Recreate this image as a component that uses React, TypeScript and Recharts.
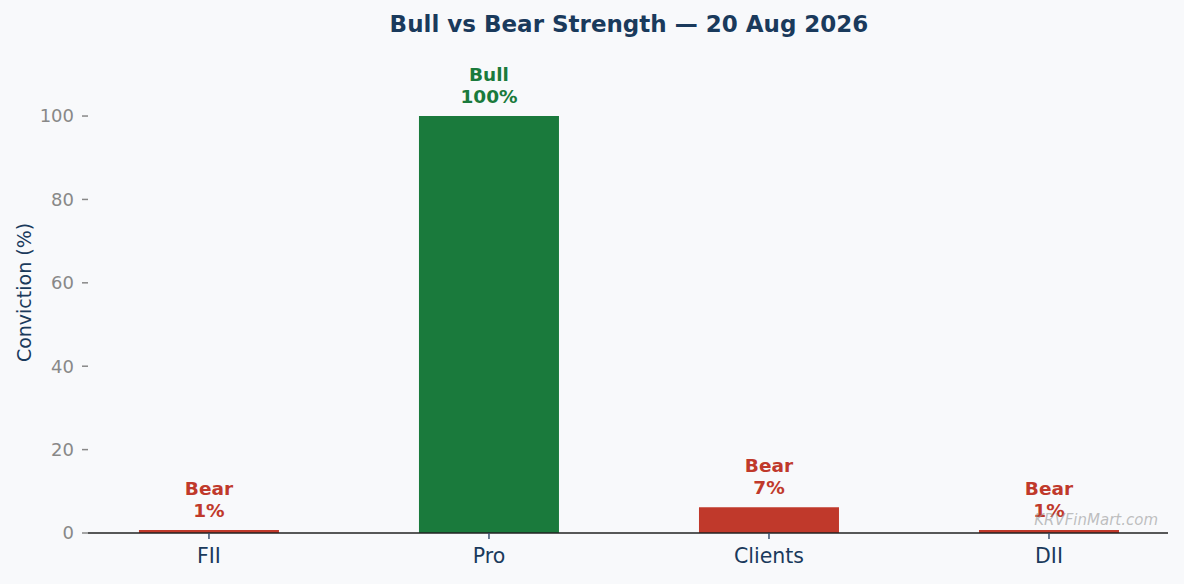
import React from 'react';
import { BarChart, Bar, XAxis, YAxis, Cell, LabelList } from 'recharts';

const categories = ['FII', 'Pro', 'Clients', 'DII'];
const strength = [0.7, 100, 6.2, 0.7];
const sides = ['Bear', 'Bull', 'Bear', 'Bear'];
const percentLabels = ['1%', '100%', '7%', '1%'];
const yTicks = [0, 20, 40, 60, 80, 100];
const xTicks = [0, 1, 2, 3];

const sideColors: Record<string, string> = { Bull: '#1a7a3c', Bear: '#c0392b' };

const data = categories.map((name, i) => ({
  pos: i,
  name,
  value: strength[i],
  side: sides[i],
  pct: percentLabels[i],
}));

const FONT = '"DejaVu Sans", sans-serif';
const NAVY = '#1a3a5c';

const BarLabel = (props: any) => {
  const { x, y, width, index } = props;
  const d = data[index];
  const cx = x + width / 2;
  const color = sideColors[d.side];
  return (
    <g>
      <text x={cx} y={y - 42} textAnchor="middle" dominantBaseline="central" fill={color} fontSize={18.5} fontWeight="bold" fontFamily={FONT}>
        {d.side}
      </text>
      <text x={cx} y={y - 20} textAnchor="middle" dominantBaseline="central" fill={color} fontSize={18.5} fontWeight="bold" fontFamily={FONT}>
        {d.pct}
      </text>
    </g>
  );
};

export default function App() {
  return (
    <div style={{ position: 'absolute', left: 0, top: 0, width: 1184, height: 584, background: '#f8f9fb', fontFamily: FONT }}>
      <div style={{ position: 'absolute', left: 88, top: 0, width: 1082, lineHeight: '48px', textAlign: 'center', fontSize: 23, fontWeight: 'bold', color: NAVY }}>
        Bull vs Bear Strength — 20 Aug 2026
      </div>
      <BarChart width={1184} height={584} data={data} margin={{ top: 66, right: 16, bottom: 0, left: 0 }}>
        <XAxis
          dataKey="pos"
          type="number"
          domain={[-0.432, 3.425]}
          ticks={xTicks}
          tickFormatter={(v: number) => categories[v]}
          height={51}
          axisLine={{ stroke: '#222', strokeWidth: 1.6 }}
          tickLine={{ stroke: '#3a5070', strokeWidth: 1.5 }}
          tickSize={6}
          tickMargin={9}
          tick={{ fill: NAVY, fontSize: 20.5, fontFamily: FONT }}
          allowDataOverflow
        />
        <YAxis
          domain={[0, 112]}
          ticks={yTicks}
          width={88}
          axisLine={false}
          tickLine={{ stroke: '#888', strokeWidth: 1.5 }}
          tickSize={6}
          tickMargin={8}
          tick={{ fill: '#888', fontSize: 18, fontFamily: FONT }}
          label={{ value: 'Conviction (%)', angle: -90, position: 'center', dx: -20, dy: -7, fill: NAVY, fontSize: 19, fontFamily: FONT }}
        />
        <Bar dataKey="value" barSize={140} isAnimationActive={false}>
          {data.map((d, i) => (
            <Cell key={i} fill={sideColors[d.side]} />
          ))}
          <LabelList dataKey="value" content={BarLabel} />
        </Bar>
      </BarChart>
      <div style={{ position: 'absolute', right: 1184 - 1158, top: 511, fontSize: 15, fontStyle: 'italic', color: 'rgba(150,150,150,0.6)', lineHeight: '18px' }}>
        KRVFinMart.com
      </div>
    </div>
  );
}
